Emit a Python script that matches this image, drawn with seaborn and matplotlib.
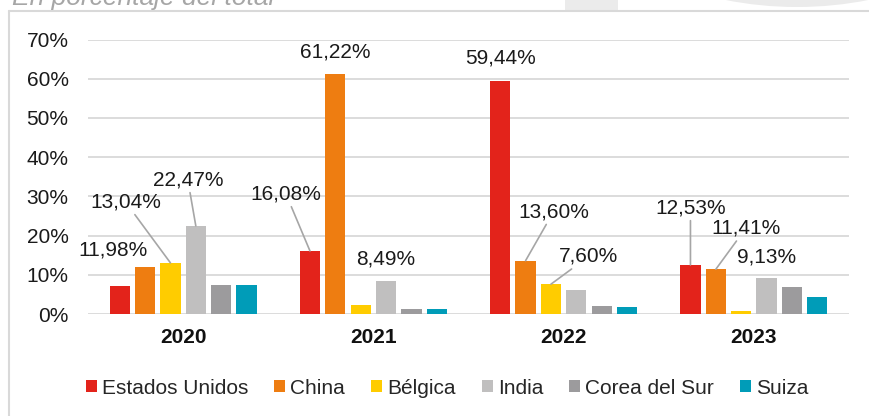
import matplotlib
matplotlib.use("Agg")
import matplotlib.pyplot as plt
import seaborn as sns
import pandas as pd
from matplotlib.lines import Line2D
from matplotlib.patches import Rectangle, Circle

# ------ DATA ------ #

years = ["2020", "2021", "2022", "2023"]
countries = ["Estados Unidos", "China", "Bélgica", "India", "Corea del Sur", "Suiza"]

estados_unidos = [7.1, 16.08, 59.44, 12.53]
china = [11.98, 61.22, 13.60, 11.41]
belgica = [13.04, 2.2, 7.60, 0.7]
india = [22.47, 8.49, 6.0, 9.13]
corea = [7.5, 1.2, 1.95, 6.8]
suiza = [7.5, 1.2, 1.9, 4.3]

colors = ["#E3231B", "#EE7D11", "#FFCC00", "#C0BFBF", "#9C9B9D", "#009CB8"]

y_ticks = [0, 10, 20, 30, 40, 50, 60, 70]

# which bars get a value label: (country, year)
labelled = [
    ("China", "2020"), ("Bélgica", "2020"), ("India", "2020"),
    ("Estados Unidos", "2021"), ("China", "2021"), ("India", "2021"),
    ("Estados Unidos", "2022"), ("China", "2022"), ("Bélgica", "2022"),
    ("Estados Unidos", "2023"), ("China", "2023"), ("India", "2023"),
]
# label offset from bar top in pixels, and whether a leader line is drawn
label_style = [
    ((-32, 17), False), ((-45, 61), True), ((-8, 46), True),
    ((-24, 57), True), ((0, 22), False), ((0, 22), False),
    ((0, 23), False), ((28, 49), True), ((38, 28), True),
    ((0, 57), True), ((30, 41), True), ((0, 21), False),
]

series = [estados_unidos, china, belgica, india, corea, suiza]
df = pd.DataFrame({
    "year": [y for _ in countries for y in years],
    "country": [c for c in countries for _ in years],
    "value": [v for s in series for v in s],
})

# ------ STYLE ------ #

sns.set_theme(style="white")
plt.rcParams["font.family"] = ["Liberation Sans", "DejaVu Sans"]
GRID = "#D9D9D9"

fig = plt.figure(figsize=(8.69, 4.16), dpi=100)
ax = fig.add_axes([88 / 869, 102 / 416, 761 / 869, 274.5 / 416])

# ------ BARS ------ #

sns.barplot(data=df, x="year", y="value", hue="country", order=years,
            hue_order=countries, palette=colors, saturation=1,
            width=0.8, gap=0.2, errorbar=None, linewidth=0, ax=ax)

ax.set_ylim(0, 70)
ax.set_yticks(y_ticks)
ax.set_yticklabels([f"{t}%" for t in y_ticks], fontsize=15, color="#1A1A1A")
ax.set_xticks(range(len(years)))
ax.set_xticklabels(years, fontsize=15, fontweight="bold", color="#111111")
ax.tick_params(axis="y", length=0, pad=14)
ax.tick_params(axis="x", length=0, pad=10)
ax.set_xlabel("")
ax.set_ylabel("")
for t in y_ticks:
    ax.axhline(t, color=GRID, lw=1.3, zorder=0)
sns.despine(ax=ax, left=True, bottom=True)
ax.set_axisbelow(True)

# ------ VALUE LABELS ------ #

for (country, year), (offset, line) in zip(labelled, label_style):
    ci = countries.index(country)
    yi = years.index(year)
    bar = ax.containers[ci][yi]
    bx = bar.get_x() + bar.get_width() / 2
    by = bar.get_height()
    txt = f"{series[ci][yi]:.2f}%".replace(".", ",")
    props = dict(arrowstyle="-", color="#A6A6A6", lw=1.2, shrinkA=0, shrinkB=0) if line else None
    ax.annotate(txt, xy=(bx, by), xytext=offset, textcoords="offset pixels",
                ha="center", va="center", fontsize=15, color="#1A1A1A",
                arrowprops=props, annotation_clip=False)

# ------ LEGEND ------ #

sns.move_legend(ax, "center", bbox_to_anchor=(447 / 869, 28 / 416),
                bbox_transform=fig.transFigure, ncol=6, frameon=False,
                title=None, fontsize=15, handlelength=0.53, handleheight=0.53,
                handletextpad=0.24, columnspacing=1.25)

# ------ FRAME, SUBTITLE, BACKGROUND ------ #

fig.add_artist(Rectangle((565 / 869, 405 / 416), 53 / 869, 11 / 416,
                         transform=fig.transFigure, color="#EBEBEB", lw=0, zorder=-2))
fig.add_artist(Circle((7.97, 7.77), 3.68, transform=fig.dpi_scale_trans,
                      color="#EBEBEB", lw=0, zorder=-2))
fig.add_artist(Line2D([9 / 869, 9 / 869], [0, 405 / 416], transform=fig.transFigure,
                      color=GRID, lw=1.5))
fig.add_artist(Line2D([9 / 869, 1], [405 / 416, 405 / 416], transform=fig.transFigure,
                      color=GRID, lw=1.5))
fig.text(12 / 869, 411.5 / 416, "En porcentaje del total", fontsize=19,
         style="italic", color="#A6A6A6", va="baseline", ha="left")

fig.savefig("out.png", dpi=100)
